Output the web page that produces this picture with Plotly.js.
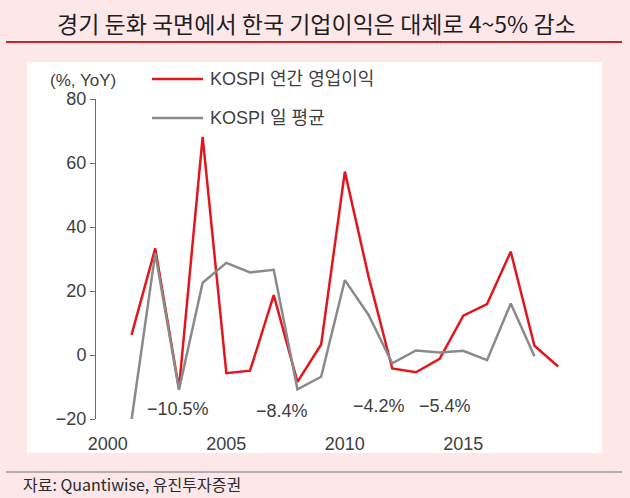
<!DOCTYPE html>
<html>
<head>
<meta charset="utf-8">
<script src="https://cdn.plot.ly/plotly-3.0.1.min.js"></script>
<style>
  html, body { margin: 0; padding: 0; background: #fde7e9; }
  #chart { width: 630px; height: 498px; }
</style>
</head>
<body>
<div id="chart"></div>
<script>
// YoY growth, %
const years    = [2001, 2002, 2003, 2004, 2005, 2006, 2007, 2008, 2009, 2010,
                  2011, 2012, 2013, 2014, 2015, 2016, 2017, 2018, 2019];
const opProfit = [6.3, 33.3, -10.5, 68.2, -5.7, -4.9, 18.7, -8.4, 3.3, 57.3,
                  24.5, -4.2, -5.4, -1.2, 12.3, 15.9, 32.3, 2.9, -3.6];
const kospiAvg = [-20.3, 31.8, -10.9, 22.6, 28.8, 25.8, 26.6, -10.7, -6.8, 23.4,
                  12.5, -2.6, 1.4, 0.8, 1.3, -1.6, 16.1, -0.4, null];
const seriesNames = ["KOSPI 연간 영업이익", "KOSPI 일 평균"];
const tickYears = [2000, 2005, 2010, 2015];
const calloutYears = [2003, 2008, 2012, 2013];

const W = 630, H = 498;
const M = {l: 96, r: 60, t: 99, b: 79};
// pixel -> paper fraction
const px = x => (x - M.l) / (W - M.l - M.r);
const py = y => (H - M.b - y) / (H - M.t - M.b);

const RED = "#e2161d", GRAY = "#8a8a8a", AXIS = "#6a6a6a", TXT = "#404040";
const FONT = "Liberation Sans, Noto Sans CJK KR, sans-serif";
const KFONT = "Noto Sans CJK KR, sans-serif";

const traces = [
  { x: years, y: opProfit, type: "scatter", mode: "lines", name: seriesNames[0],
    line: { color: RED, width: 2.5 }, showlegend: false },
  { x: years, y: kospiAvg, type: "scatter", mode: "lines", name: seriesNames[1],
    line: { color: GRAY, width: 2.5 }, showlegend: false }
];

const lineShape = (x0, x1, y, color, width) => ({
  type: "line", xref: "paper", yref: "paper",
  x0: px(x0), x1: px(x1), y0: py(y), y1: py(y),
  line: { color: color, width: width }
});

const shapes = [
  { type: "rect", xref: "paper", yref: "paper", layer: "below",
    x0: px(27), x1: px(602), y0: py(453), y1: py(62),
    fillcolor: "#ffffff", line: { width: 0 } },
  lineShape(6, 622, 42, "#c0282d", 2),
  lineShape(6, 622, 472, "#9a9a9a", 1.5),
  lineShape(152, 203, 79, RED, 2.5),
  lineShape(152, 203, 118, GRAY, 2.5)
];

const annotations = [
  { xref: "paper", yref: "paper", x: px(316), y: py(23), xanchor: "center", yanchor: "middle",
    text: "경기 둔화 국면에서 한국 기업이익은 대체로 4~5% 감소", showarrow: false,
    font: { family: KFONT, size: 23, color: "#1e1e1e" } },
  { xref: "paper", yref: "paper", x: px(21), y: py(484), xanchor: "left", yanchor: "middle",
    text: "자료: Quantiwise, 유진투자증권", showarrow: false,
    font: { family: KFONT, size: 16, color: "#2a2a2a" } },
  { xref: "paper", yref: "paper", x: px(83), y: py(80), xanchor: "center", yanchor: "middle",
    text: "(%, YoY)", showarrow: false, font: { family: FONT, size: 17, color: TXT } },
  { xref: "paper", yref: "paper", x: px(208), y: py(79), xanchor: "left", yanchor: "middle",
    text: seriesNames[0], showarrow: false, font: { family: FONT, size: 18, color: TXT } },
  { xref: "paper", yref: "paper", x: px(208), y: py(118), xanchor: "left", yanchor: "middle",
    text: seriesNames[1], showarrow: false, font: { family: FONT, size: 18, color: TXT } }
];

// value callouts for the red series
const calloutShift = [-1, -15, -13, 29];
const calloutY = [-16.9, -17.5, -15.9, -15.9];
calloutYears.forEach((yr, i) => {
  const v = opProfit[years.indexOf(yr)];
  annotations.push({
    x: yr, y: calloutY[i], xref: "x", yref: "y", xshift: calloutShift[i],
    text: (v < 0 ? "\u2212" : "") + Math.abs(v).toFixed(1) + "%",
    showarrow: false, xanchor: "center", yanchor: "middle",
    font: { family: FONT, size: 18, color: TXT }
  });
});

const layout = {
  width: W, height: H,
  margin: M,
  paper_bgcolor: "#fde7e9",
  plot_bgcolor: "rgba(0,0,0,0)",
  showlegend: false,
  hovermode: false,
  xaxis: {
    range: [1999.5, 2019.5],
    tickvals: tickYears, ticktext: tickYears.map(String),
    ticks: "outside", ticklen: 8, tickcolor: "rgba(0,0,0,0)",
    showline: false, showgrid: false, zeroline: false,
    tickfont: { family: FONT, size: 18, color: TXT }
  },
  xaxis2: {
    overlaying: "x", matches: "x", anchor: "free", position: 0.2, side: "bottom",
    tickvals: tickYears.map(y => y - 0.5).concat([years[years.length - 1] + 0.5]),
    ticks: "outside", ticklen: 5, tickcolor: AXIS, tickwidth: 1,
    showticklabels: false, showline: true, linecolor: AXIS, linewidth: 1,
    showgrid: false, zeroline: false
  },
  yaxis: {
    range: [-20, 80],
    tickvals: [-20, 0, 20, 40, 60, 80],
    ticks: "outside", ticklen: 5, tickcolor: AXIS,
    showline: true, linecolor: AXIS, linewidth: 1,
    showgrid: false, zeroline: false,
    tickfont: { family: FONT, size: 18, color: TXT }
  },
  shapes: shapes,
  annotations: annotations
};

Plotly.newPlot("chart", traces, layout, { staticPlot: true, displayModeBar: false });
</script>
</body>
</html>
